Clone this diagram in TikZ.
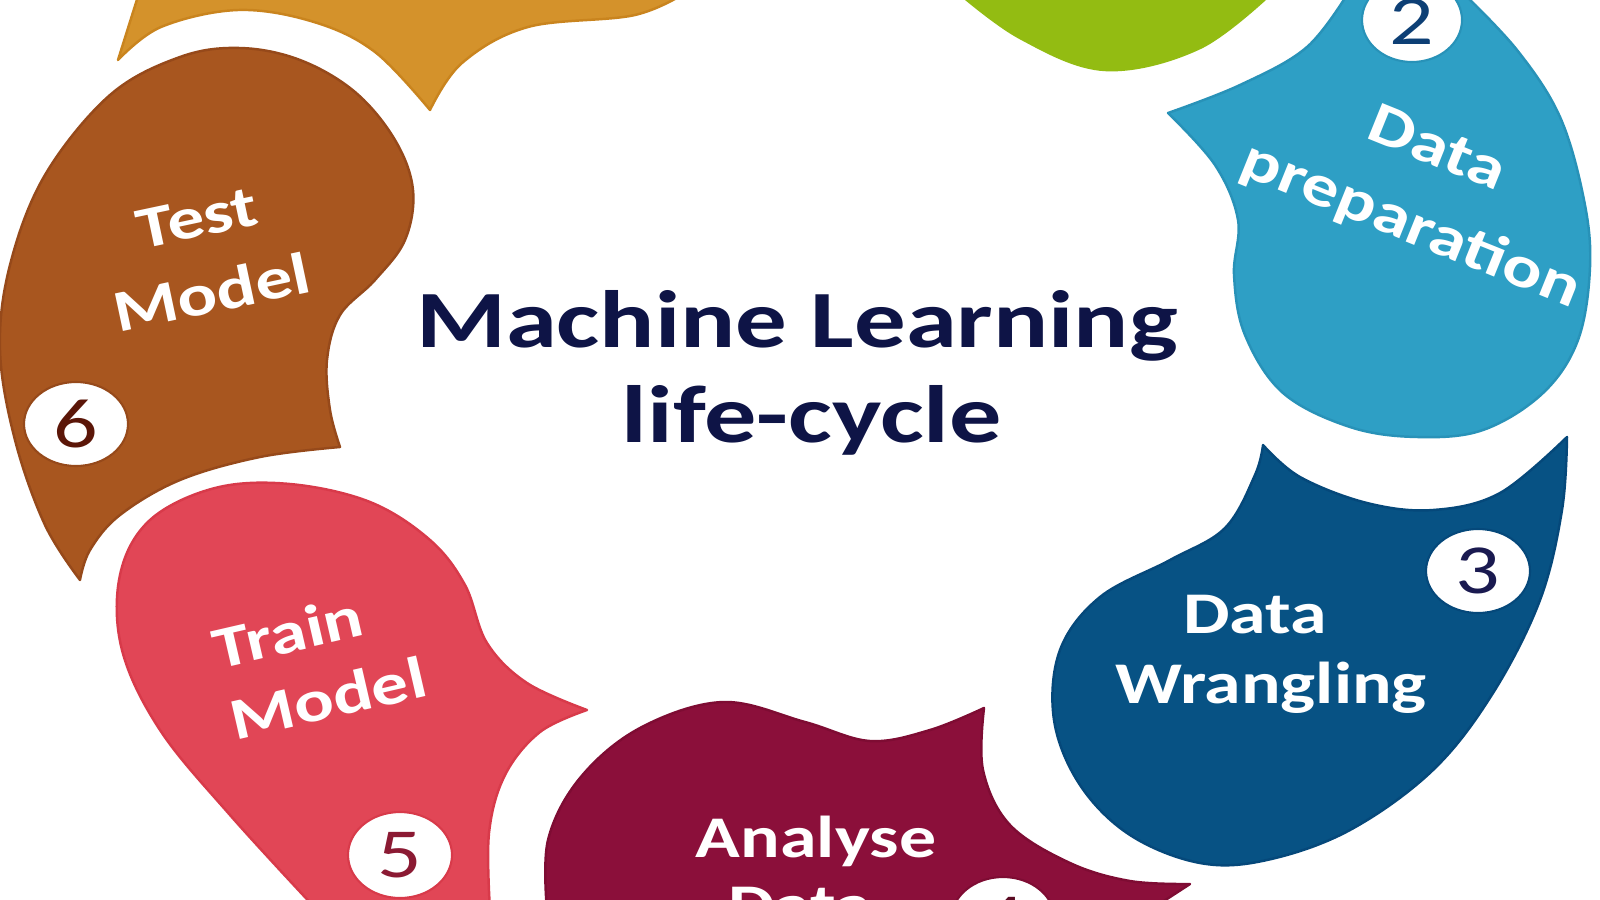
\documentclass[tikz,border=0pt]{standalone}
\usepackage{fontspec}
\setmainfont{Carlito}
\usepackage{graphicx}
\definecolor{cOrange}{HTML}{D4922B}
\definecolor{cOrangeD}{HTML}{C9841E}
\definecolor{cGreen}{HTML}{93BC12}
\definecolor{cLBlue}{HTML}{2E9FC5}
\definecolor{cLBlueD}{HTML}{2892B8}
\definecolor{cDBlue}{HTML}{075284}
\definecolor{cDBlueD}{HTML}{05487A}
\definecolor{cMaroon}{HTML}{8B0F3A}
\definecolor{cMaroonD}{HTML}{7E0C33}
\definecolor{cRed}{HTML}{E14656}
\definecolor{cRedD}{HTML}{D83A4A}
\definecolor{cBrown}{HTML}{A8561F}
\definecolor{cBrownD}{HTML}{96491A}
\definecolor{cTitle}{HTML}{0E1446}
\definecolor{dTwo}{HTML}{0D3F75}
\definecolor{dThree}{HTML}{1A1A50}
\definecolor{dFour}{HTML}{5A0A22}
\definecolor{dFive}{HTML}{8B1A33}
\definecolor{dSix}{HTML}{5B1608}
\newcommand{\sq}[1]{\scalebox{1}[0.80]{#1}}
\begin{document}
\begin{tikzpicture}[x=0.01cm,y=-0.01cm,
  shp/.style={line width=0.7pt, line join=round},
  num/.style={font=\fontsize{25}{25}\selectfont, inner sep=0pt},
  lab/.style={text=white, font=\fontsize{21}{21}\selectfont\bfseries, inner sep=0pt},
  badge/.style={fill=white, draw=#1, line width=0.6pt},
  ttl/.style={anchor=base, inner sep=0pt, text=cTitle, font=\bfseries}
]
\useasboundingbox (0,0) rectangle (1600,900);
\clip (0,0) rectangle (1600,900);
\fill[white] (0,0) rectangle (1600,900);

% orange (top left, cut off)
\filldraw[shp, fill=cOrange, draw=cOrangeD]
  plot[smooth, tension=0.6] coordinates {(118,60) (161,27) (238,10) (314,22) (375,52) (430,110)}
  -- plot[smooth, tension=0.6] coordinates {(430,110) (462,63) (528,27) (635,15) (690,-10)}
  -- (690,-30) -- (135,-30) -- (140,-10) -- cycle;

% green (top, cut off)
\filldraw[shp, fill=cGreen, draw=cGreen]
  plot[smooth, tension=0.6] coordinates {(955,-10) (1020,38) (1105,70) (1200,48) (1275,-10)}
  -- (1275,-30) -- (955,-30) -- cycle;

% light blue (data preparation)
\filldraw[shp, fill=cLBlue, draw=cLBlueD]
  plot[smooth, tension=0.6] coordinates {(1168,113) (1240,85) (1307,47) (1350,-10)}
  -- (1350,-30) -- (1460,-30) --
  plot[smooth, tension=0.6] coordinates {(1460,-10) (1517,50) (1560,117) (1584,200) (1590,267) (1578,340) (1543,393) (1483,430) (1417,437) (1350,427) (1283,393) (1245,335) (1234,275) (1238,220) (1215,165) (1168,113)}
  -- cycle;

% dark blue (data wrangling)
\filldraw[shp, fill=cDBlue, draw=cDBlueD]
  plot[smooth, tension=0.6] coordinates {(1263,445) (1300,477) (1367,503) (1433,510) (1500,493) (1567,437)}
  -- plot[smooth, tension=0.6] coordinates {(1567,437) (1562,510) (1540,600) (1493,693) (1433,770) (1350,830) (1267,860) (1200,863) (1130,835) (1080,785) (1054,720) (1060,650) (1100,597) (1170,560) (1225,528) (1255,475) (1263,445)}
  -- cycle;

% maroon (analyse data)
\filldraw[shp, fill=cMaroon, draw=cMaroonD]
  plot[smooth, tension=0.6] coordinates {(547,910) (548,840) (580,778) (640,728) (723,702) (805,722) (870,741) (930,730) (984,708)}
  -- plot[smooth, tension=0.6] coordinates {(984,708) (983,770) (1010,825) (1070,863) (1130,881) (1190,884)}
  -- (1150,910) -- cycle;

% red (train model)
\filldraw[shp, fill=cRed, draw=cRedD]
  plot[smooth, tension=0.6] coordinates {(317,910) (230,815) (160,730) (122,650) (120,575) (150,520) (215,488) (290,484) (370,502) (430,540) (465,585) (487,643) (527,683) (587,710)}
  -- plot[smooth, tension=0.6] coordinates {(587,710) (540,732) (505,775) (489,833) (490,910)}
  -- cycle;

% brown (test model)
\filldraw[shp, fill=cBrown, draw=cBrownD]
  plot[smooth, tension=0.6] coordinates {(80,580) (45,525) (15,440) (0,350) (10,265) (45,175) (110,95) (180,57) (240,48) (300,60) (355,92) (395,140) (413,190) (405,240) (375,280) (340,315) (327,360) (330,410) (340,447)}
  -- plot[smooth, tension=0.6] coordinates {(340,447) (260,457) (180,480) (120,515) (90,550) (80,580)}
  -- cycle;

% number badges
\draw[badge=cLBlueD] (1412,20) ellipse [x radius=50, y radius=42];
\draw[badge=cDBlueD] (1478,571) ellipse [x radius=52, y radius=42];
\draw[badge=cMaroonD] (1003,920) ellipse [x radius=52, y radius=43];
\draw[badge=cRedD] (400,855) ellipse [x radius=52, y radius=43];
\draw[badge=cBrownD] (76,424) ellipse [x radius=52, y radius=42];

\node[num, text=dTwo] (n2) at (1412,22) {\sq{2}};
\node[num, text=dThree] (n3) at (1478,571) {\sq{3}};
\node[num, text=dFour] (n4) at (1003,920) {\sq{4}};
\node[num, text=dFive] (n5) at (400,855) {\sq{5}};
\node[num, text=dSix] (n6) at (76,424) {\sq{6}};

% labels
\node[lab, rotate=-22] (prepA) at (1438,147) {\sq{Data}};
\node[lab, rotate=-22] (prepB) at (1411,226) {\sq{preparation}};
\node[lab, anchor=base] (wrA) at (1255,633) {\sq{Data}};
\node[lab, anchor=base] (wrB) at (1271,703) {\sq{Wrangling}};
\node[lab, anchor=base] (anA) at (816,857) {\sq{Analyse}};
\node[lab, anchor=base] (anB) at (800,925) {\sq{Data}};
\node[lab, rotate=13] (trA) at (288,632) {\sq{Train}};
\node[lab, rotate=13] (trB) at (328,698) {\sq{Model}};
\node[lab, rotate=12] (teA) at (197,218) {\sq{Test}};
\node[lab, rotate=12] (teB) at (212,292) {\sq{Model}};

% title
\node[ttl] (title1) at (797,347) {\resizebox{7.61cm}{0.57cm}{Machine Learning}};
\node[ttl] (title2) at (812,442) {\resizebox{3.80cm}{0.57cm}{life-cycle}};
\end{tikzpicture}
\end{document}
